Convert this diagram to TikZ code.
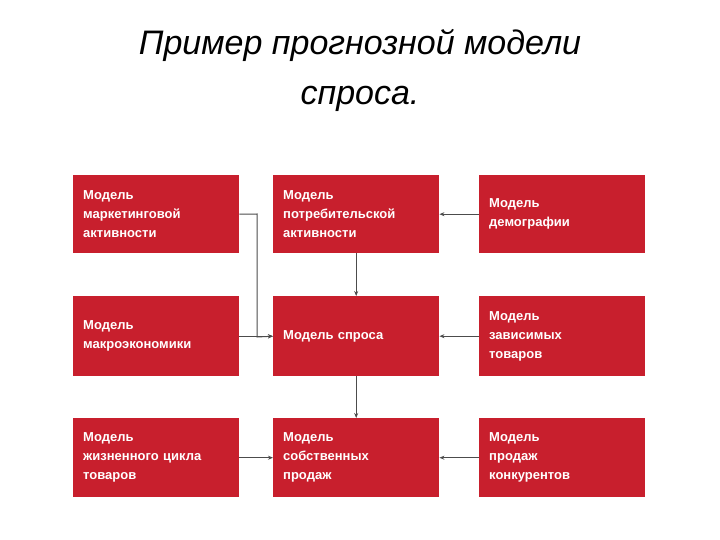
\documentclass[tikz,border=0pt]{standalone}
\usepackage{fontspec}
\setmainfont{Liberation Sans}
\usetikzlibrary{arrows.meta}
\definecolor{boxred}{HTML}{C81F2D}
\begin{document}
\begin{tikzpicture}[x=1pt,y=-1pt,
 box/.style={fill=boxred,draw=none,minimum width=166pt,text width=150pt,align=left,anchor=north west,font=\bfseries\fontsize{13}{19}\selectfont,text=white,inner sep=0pt},
 conn/.style={draw=black!70,line width=1pt,-{Stealth[length=5pt,width=4pt]}}]
\useasboundingbox (0,0) rectangle (720,540);
\node[font=\itshape\fontsize{34}{50}\selectfont,align=center] (title) at (360,70) {Пример прогнозной модели\\спроса.};
\newcommand{\bx}[4]{\node[box,minimum height=#3] (#1) at #2 {}; \node[anchor=west,text width=150pt,align=left,font=\bfseries\fontsize{13}{19}\selectfont,text=white,inner sep=0pt] (#1t) at ([xshift=10pt]#1.west) {#4};}
\bx{a}{(73,175)}{78pt}{Модель\\маркетинговой\\активности}
\bx{b}{(273,175)}{78pt}{Модель\\потребительской\\активности}
\bx{c}{(479,175)}{78pt}{Модель\\демографии}
\bx{d}{(73,296)}{80pt}{Модель\\макроэкономики}
\bx{e}{(273,296)}{80pt}{Модель спроса}
\bx{f}{(479,296)}{80pt}{Модель\\зависимых\\товаров}
\bx{g}{(73,418)}{79pt}{Модель\\жизненного цикла\\товаров}
\bx{h}{(273,418)}{79pt}{Модель\\собственных\\продаж}
\bx{i}{(479,418)}{79pt}{Модель\\продаж\\конкурентов}
\draw[conn] (a.east) -- (257,214) -- (257,337) -- (e.west);
\draw[conn] (d.east) -- (e.west);
\draw[conn] (c.west) -- (b.east);
\draw[conn] (b.south) -- (e.north);
\draw[conn] (f.west) -- (e.east);
\draw[conn] (e.south) -- (h.north);
\draw[conn] (g.east) -- (h.west);
\draw[conn] (i.west) -- (h.east);
\end{tikzpicture}
\end{document}
